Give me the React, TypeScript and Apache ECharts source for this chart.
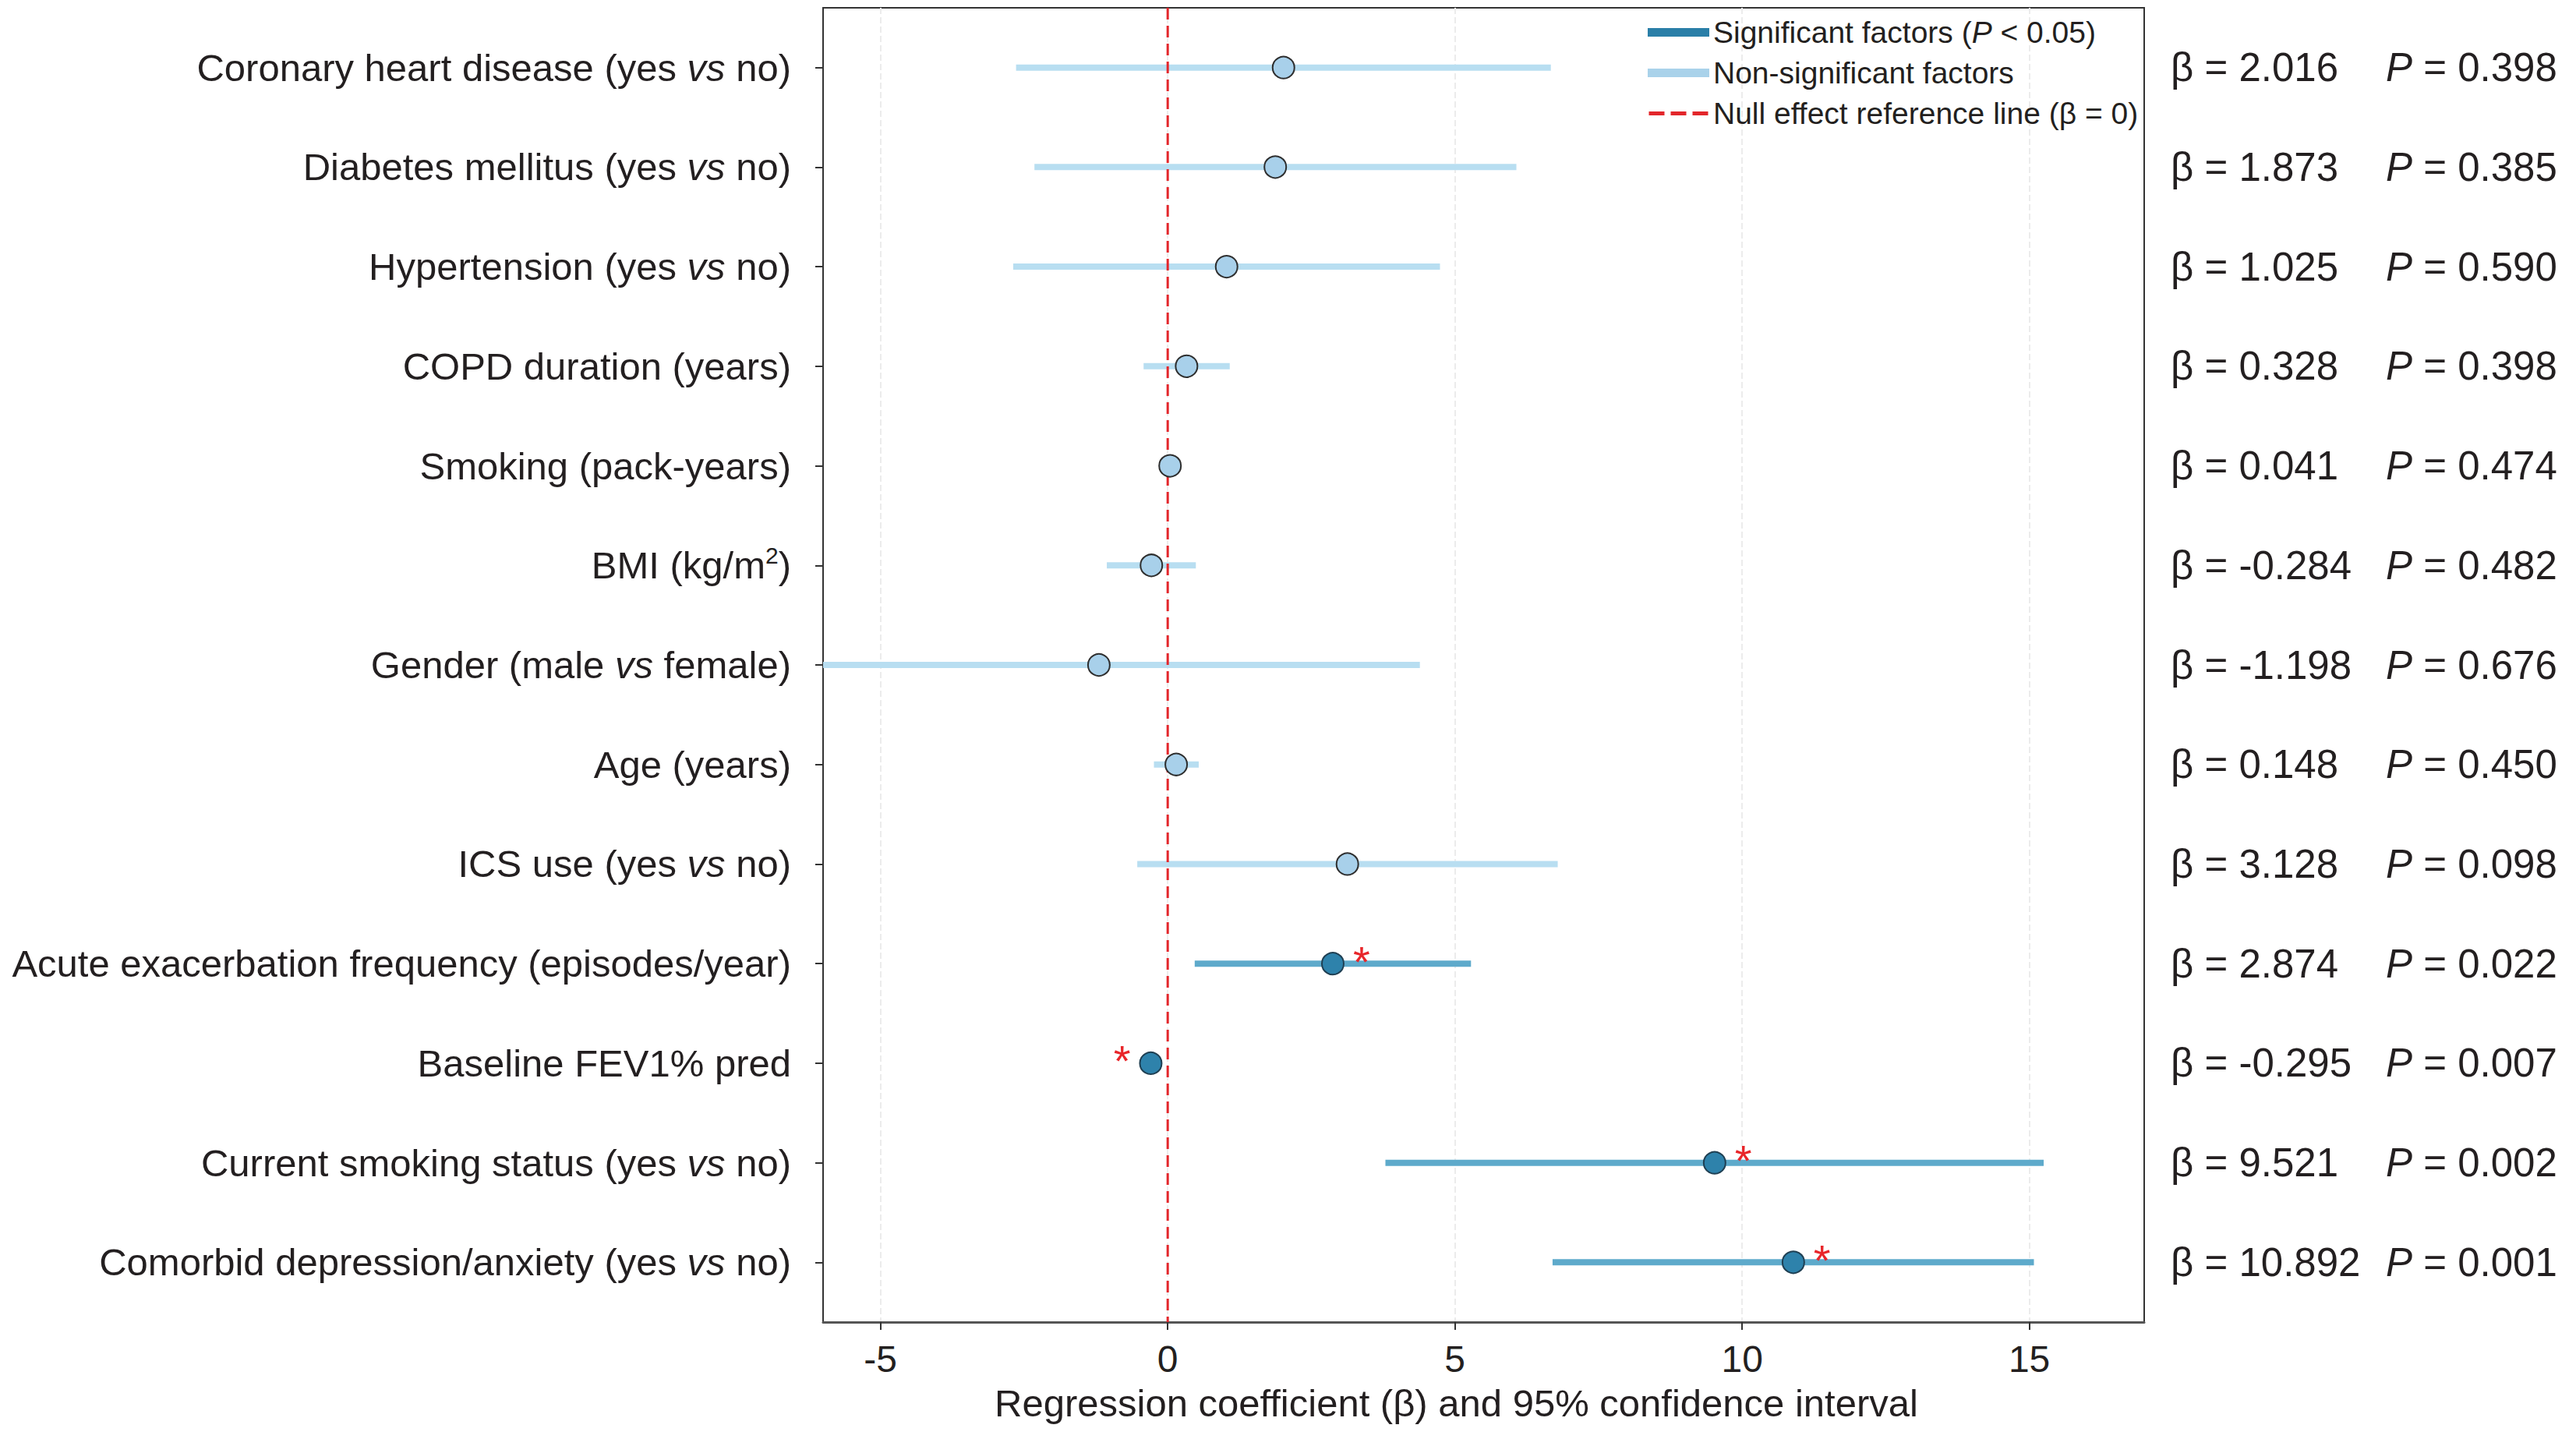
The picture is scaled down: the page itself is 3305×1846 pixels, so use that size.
import React, { useEffect, useRef } from 'react';
import * as echarts from 'echarts';

const CATEGORIES = [
  'Coronary heart disease (yes vs no)',
  'Diabetes mellitus (yes vs no)',
  'Hypertension (yes vs no)',
  'COPD duration (years)',
  'Smoking (pack-years)',
  'BMI (kg/m²)',
  'Gender (male vs female)',
  'Age (years)',
  'ICS use (yes vs no)',
  'Acute exacerbation frequency (episodes/year)',
  'Baseline FEV1% pred',
  'Current smoking status (yes vs no)',
  'Comorbid depression/anxiety (yes vs no)',
];
const BETA = [2.016, 1.873, 1.025, 0.328, 0.041, -0.284, -1.198, 0.148, 3.128, 2.874, -0.295, 9.521, 10.892];
const P_VALUES = [0.398, 0.385, 0.59, 0.398, 0.474, 0.482, 0.676, 0.45, 0.098, 0.022, 0.007, 0.002, 0.001];
const CI_LOWER = [-2.64, -2.32, -2.69, -0.42, -0.05, -1.06, -6.79, -0.24, -0.53, 0.47, -0.45, 3.79, 6.7];
const CI_UPPER = [6.67, 6.07, 4.74, 1.08, 0.13, 0.49, 4.39, 0.54, 6.79, 5.28, -0.14, 15.25, 15.08];
const X_TICKS = [-5, 0, 5, 10, 15];
const X_MIN = -6;
const X_MAX = 17;
const Y_MIN = -0.6;
const Y_MAX = 12.6;
const NULL_EFFECT = [0];
const ALPHA = 0.05;

const SIG_NAME = 'Significant factors (P < 0.05)';
const NONSIG_NAME = 'Non-significant factors';
const NULL_NAME = 'Null effect reference line (β = 0)';

const FONT = "'Liberation Sans', Arial, sans-serif";
const TEXT_COLOR = '#231f20';

const ROW_INDEX = CATEGORIES.map((_, i) => i);

function richLabel(s: string): string {
  if (s.includes(' vs ')) {
    const [a, b] = s.split(' vs ');
    return `{n|${a} }{i|vs}{n| ${b}}`;
  }
  if (s.includes('²')) {
    const [a, b] = s.split('²');
    return `{n|${a}}{sup|2}{n|${b}}`;
  }
  return `{n|${s}}`;
}

export default function App() {
  const ref = useRef<HTMLDivElement>(null);

  useEffect(() => {
    if (!ref.current) return;
    const chart = echarts.init(ref.current, undefined, { renderer: 'svg' });

    const rows = ROW_INDEX.map((i) => [i, CI_LOWER[i], CI_UPPER[i], BETA[i], P_VALUES[i]]);
    const sigRows = rows.filter((r) => r[4] < ALPHA);
    const nonSigRows = rows.filter((r) => r[4] >= ALPHA);

    const ciRender = (color: string) => (params: any, api: any) => {
      const y = api.value(0);
      const p1 = api.coord([api.value(1), y]);
      const p2 = api.coord([api.value(2), y]);
      return {
        type: 'line',
        shape: { x1: p1[0], y1: p1[1], x2: p2[0], y2: p2[1] },
        style: { stroke: color, lineWidth: 8 },
      };
    };

    const option: any = {
      animation: false,
      backgroundColor: '#ffffff',
      grid: {
        left: 1056,
        right: 554,
        top: 10,
        bottom: 150,
        show: true,
        borderColor: '#333333',
        borderWidth: 2,
        backgroundColor: 'transparent',
      },
      legend: {
        show: true,
        orient: 'vertical',
        left: 2109,
        top: 17,
        itemWidth: 79,
        itemHeight: 11,
        itemGap: 13,
        selectedMode: false,
        data: [
          { name: SIG_NAME, icon: 'rect', itemStyle: { color: '#2a7fa8' } },
          { name: NONSIG_NAME, icon: 'rect', itemStyle: { color: '#a9d2ea' } },
          {
            name: NULL_NAME,
            icon: 'path://M0,0h0.01v0.01h-0.01z M0,3h20v5h-20z M28,3h20v5h-20z M56,3h20v5h-20z M75.99,10.99h0.01v0.01h-0.01z',
            itemStyle: { color: '#e3262b' },
          },
        ],
        formatter: (name: string) =>
          name === SIG_NAME ? '{n|Significant factors (}{i|P}{n| < 0.05)}' : `{n|${name}}`,
        textStyle: {
          padding: [0, 0, 0, 0],
          rich: {
            n: { fontSize: 39, fontFamily: FONT, color: TEXT_COLOR, lineHeight: 40 },
            i: { fontSize: 39, fontFamily: FONT, color: TEXT_COLOR, lineHeight: 40, fontStyle: 'italic' },
          },
        },
      },
      xAxis: {
        type: 'value',
        min: X_MIN,
        max: X_MAX,
        name: 'Regression coefficient (β) and 95% confidence interval',
        nameLocation: 'middle',
        nameGap: 79,
        nameTextStyle: { fontSize: 49, fontFamily: FONT, color: TEXT_COLOR, padding: [0, 70, 0, 0] },
        axisLine: { show: true, onZero: false, lineStyle: { color: '#555555', width: 3 } },
        axisTick: { show: true, customValues: X_TICKS, length: 10, lineStyle: { color: '#333333', width: 2 } },
        axisLabel: {
          customValues: X_TICKS,
          margin: 23,
          fontSize: 48,
          fontFamily: FONT,
          color: TEXT_COLOR,
        },
        splitLine: { show: true, lineStyle: { color: '#ececec', type: 'dashed', width: 2 } },
      },
      yAxis: [
        {
          type: 'value',
          min: Y_MIN,
          max: Y_MAX,
          inverse: true,
          axisLine: { show: true, onZero: false, lineStyle: { color: '#333333', width: 2 } },
          axisTick: { show: true, customValues: ROW_INDEX, length: 10, lineStyle: { color: '#333333', width: 2 } },
          splitLine: { show: false },
          axisLabel: {
            customValues: ROW_INDEX,
            margin: 41,
            formatter: (v: number) => richLabel(CATEGORIES[Math.round(v)] ?? ''),
            rich: {
              n: { fontSize: 49, fontFamily: FONT, color: TEXT_COLOR, lineHeight: 56 },
              i: { fontSize: 49, fontFamily: FONT, color: TEXT_COLOR, lineHeight: 56, fontStyle: 'italic' },
              sup: { fontSize: 30, fontFamily: FONT, color: TEXT_COLOR, lineHeight: 36, verticalAlign: 'top' },
            },
          },
        },
        {
          type: 'value',
          position: 'right',
          min: Y_MIN,
          max: Y_MAX,
          inverse: true,
          axisLine: { show: false, onZero: false },
          axisTick: { show: false },
          splitLine: { show: false },
          axisLabel: {
            customValues: ROW_INDEX,
            margin: 34,
            formatter: (v: number) => {
              const i = Math.round(v);
              if (BETA[i] === undefined) return '';
              return `{b|β = ${BETA[i].toFixed(3)}}{p|P}{n| = ${P_VALUES[i].toFixed(3)}}`;
            },
            rich: {
              b: { fontSize: 51, fontFamily: FONT, color: TEXT_COLOR, width: 276 },
              p: { fontSize: 51, fontFamily: FONT, color: TEXT_COLOR, fontStyle: 'italic' },
              n: { fontSize: 51, fontFamily: FONT, color: TEXT_COLOR },
            },
          },
        },
      ],
      series: [
        {
          type: 'custom',
          name: NONSIG_NAME,
          clip: true,
          z: 2,
          itemStyle: { color: '#a9d2ea' },
          encode: { x: [1, 2, 3], y: 0 },
          data: nonSigRows,
          renderItem: ciRender('#b8def1'),
        },
        {
          type: 'custom',
          name: SIG_NAME,
          clip: true,
          z: 2,
          itemStyle: { color: '#2a7fa8' },
          encode: { x: [1, 2, 3], y: 0 },
          data: sigRows,
          renderItem: ciRender('#5eaacb'),
        },
        {
          type: 'custom',
          name: NULL_NAME,
          z: 3,
          itemStyle: { color: '#e3262b' },
          encode: { x: 0 },
          data: NULL_EFFECT.map((v) => [v]),
          renderItem: (params: any, api: any) => {
            const cs = params.coordSys;
            const x = api.coord([api.value(0), 0])[0];
            return {
              type: 'line',
              shape: { x1: x, y1: cs.y, x2: x, y2: cs.y + cs.height },
              style: { stroke: '#e3262b', lineWidth: 3, lineDash: [15, 8] },
            };
          },
        },
        {
          type: 'custom',
          name: 'markers',
          z: 4,
          encode: { x: 3, y: 0 },
          data: rows,
          renderItem: (params: any, api: any) => {
            const idx = api.value(0);
            const beta = api.value(3);
            const sig = api.value(4) < ALPHA;
            const c = api.coord([beta, idx]);
            const children: any[] = [
              {
                type: 'circle',
                shape: { cx: c[0], cy: c[1], r: 14 },
                style: {
                  fill: sig ? '#2e82ab' : '#a8d0ea',
                  stroke: sig ? '#1f3f52' : '#2e2e2e',
                  lineWidth: 2,
                },
              },
            ];
            if (sig) {
              const s = api.coord([beta + 0.5 * Math.sign(beta), idx]);
              children.push({
                type: 'text',
                x: s[0],
                y: s[1] - 3,
                style: {
                  text: '*',
                  fill: '#e8262a',
                  fontSize: 56,
                  fontFamily: FONT,
                  align: 'center',
                  verticalAlign: 'middle',
                },
              });
            }
            return { type: 'group', children };
          },
        },
      ],
    };

    chart.setOption(option);
    return () => chart.dispose();
  }, []);

  return (
    <div
      ref={ref}
      style={{ position: 'fixed', left: 0, top: 0, width: 3305, height: 1846, background: '#ffffff' }}
    />
  );
}
